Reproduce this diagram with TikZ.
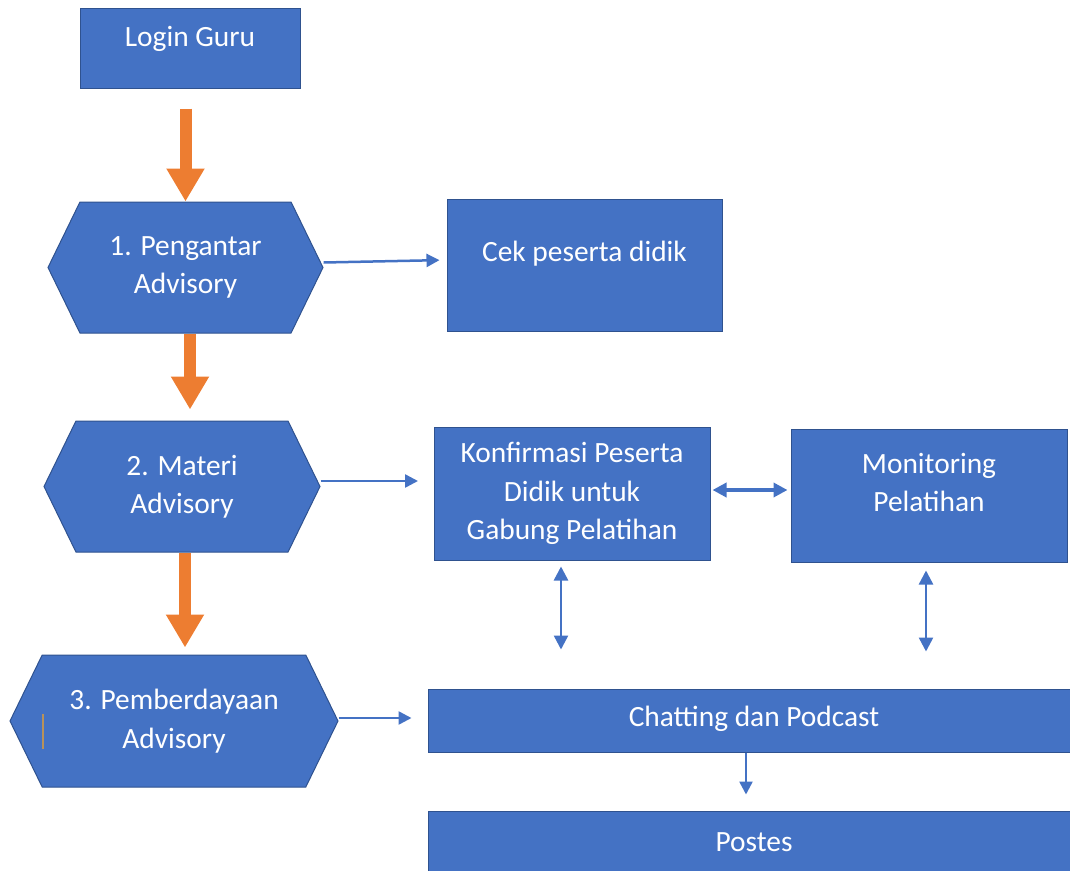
\documentclass[tikz,border=0pt]{standalone}
\usepackage{fontspec}
\setmainfont{Carlito}
\usetikzlibrary{arrows.meta}
\usetikzlibrary{shapes.symbols}
\usetikzlibrary{calc}
\definecolor{boxblue}{HTML}{4472C4}
\definecolor{edgeblue}{HTML}{2F528F}
\definecolor{flowor}{HTML}{ED7D31}
\definecolor{cursorbr}{HTML}{B8925A}
\tikzset{
  box/.style={rectangle, fill=boxblue, draw=edgeblue, line width=1pt,
    text=white, align=center, font=\fontsize{29.4}{38.5}\selectfont},
  hexa/.style={box, signal, signal to=west and east, signal pointer angle=128},
  lbl/.style={text=white, align=center, font=\fontsize{29.4}{38.5}\selectfont},
  bigarrow/.style={draw=flowor, line width=12pt, -{Triangle[length=33pt,width=36pt]}},
  thinarrow/.style={draw=boxblue, line width=2.5pt, -{Triangle[length=13pt,width=13pt]}},
  dblarrow/.style={draw=boxblue, line width=2.5pt,
    {Triangle[length=14pt,width=14pt]}-{Triangle[length=14pt,width=14pt]}}
}

\begin{document}
\begin{tikzpicture}[x=1pt,y=-1pt]
  \useasboundingbox (0,0) rectangle (1070,870);
  % left column
  \node[box, minimum width=220pt, minimum height=80pt,
    label={[lbl,name=logintxt,yshift=9pt]center:Login Guru}] (login) at (190,48) {};
  \node[hexa, minimum width=275pt, minimum height=131pt] (hex1) at (185.5,267.5) {1. Pengantar\\Advisory};
  \node[hexa, minimum width=276pt, minimum height=131pt] (hex2) at (182,486.5) {2. Materi\\Advisory};
  \node[hexa, minimum width=328pt, minimum height=132pt] (hex3) at (174,721) {3. Pemberdayaan\\Advisory};
  \draw[cursorbr, line width=2pt] (43,714) -- (43,749);
  % right column
  \node[box, minimum width=275pt, minimum height=132pt,
    label={[lbl,name=cektxt,yshift=11pt]center:Cek peserta didik}] (cek) at (584.5,265) {};
  \node[box, minimum width=276pt, minimum height=133pt] (konf) at (572,493.5) {Konfirmasi Peserta\\Didik untuk\\Gabung Pelatihan};
  \node[box, minimum width=276pt, minimum height=133pt,
    label={[lbl,name=monitxt,yshift=13pt]center:Monitoring\\Pelatihan}] (moni) at (929,495.5) {};
  \node[box, minimum width=652pt, minimum height=63pt,
    label={[lbl,name=chattxt,yshift=2pt]center:Chatting dan Podcast}] (chat) at (754,720.5) {};
  \node[box, minimum width=652pt, minimum height=69pt,
    label={[lbl,name=postxt,yshift=3pt]center:Postes}] (postes) at (754,845.5) {};
  % orange flow
  \draw[bigarrow, shorten <=20pt] (login.south -| hex1.north) -- (hex1.north);
  \draw[bigarrow, shorten >=11pt] ([xshift=4.5pt]hex1.south) -- ([xshift=4.5pt]hex1.south |- hex2.north);
  \draw[bigarrow, shorten >=7pt] ([xshift=3pt]hex2.south) -- ([xshift=3pt]hex2.south |- hex3.north);
  % blue connectors
  \draw[thinarrow, shorten >=7pt] ([yshift=5pt]hex1.east) -- ([yshift=5pt]cek.west);
  \draw[thinarrow, shorten >=15.5pt] ([yshift=5.5pt]hex2.east) -- ([yshift=5.5pt]hex2.east -| konf.west);
  \draw[thinarrow, shorten >=16pt] ([yshift=3pt]hex3.east) -- ([yshift=3pt]hex3.east -| chat.west);
  \draw[dblarrow, line width=3.5pt, shorten <=2pt, shorten >=3pt] ([yshift=3.5pt]konf.east) -- ([yshift=3.5pt]konf.east -| moni.west);
  \draw[dblarrow, shorten <=6pt, shorten >=39pt] ([xshift=-11pt]konf.south) -- ([xshift=-11pt]konf.south |- chat.north);
  \draw[dblarrow, shorten <=8pt, shorten >=37pt] ([xshift=-3pt]moni.south) -- ([xshift=-3pt]moni.south |- chat.north);
  \draw[thinarrow, shorten >=16pt] ([xshift=-8pt]chat.south) -- ([xshift=-8pt]chat.south |- postes.north);
\end{tikzpicture}
\end{document}
